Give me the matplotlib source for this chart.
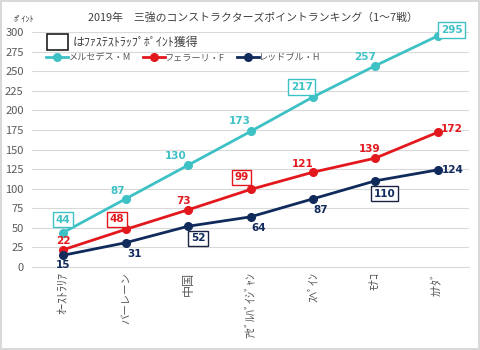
import matplotlib
matplotlib.use("Agg")
import matplotlib.pyplot as plt
from matplotlib.patches import Rectangle

plt.rcParams['font.family'] = ['Noto Sans CJK JP', 'DejaVu Sans']

races = ["ｵｰｽﾄﾗﾘｱ", "バーレーン", "中国", "ｱｾﾞﾙﾊﾞｲｼﾞｬﾝ", "ｽﾍﾟｲﾝ", "ﾓﾅｺ", "ｶﾅﾀﾞ"]
mercedes = [44, 87, 130, 173, 217, 257, 295]
ferrari = [22, 48, 73, 99, 121, 139, 172]
redbull = [15, 31, 52, 64, 87, 110, 124]
names = ["メルセデス・M", "フェラーリ・F", "レッドブル・H"]
# which labels are boxed (fastest lap point)
boxed_m = [True, False, False, False, True, False, True]
boxed_f = [False, True, False, True, False, False, False]
boxed_r = [False, False, True, False, False, True, False]

c_m = "#3EC1C5"
c_f = "#E2181D"
c_r = "#102A5C"

fig = plt.figure(figsize=(4.8, 3.5), dpi=100)
fig.patch.set_edgecolor("#D9D9D9")
fig.patch.set_linewidth(1.5)
ax = fig.add_axes([32/480, 1-267/350, 437/480, 235/350])

x = list(range(len(races)))
series = [(mercedes, c_m, boxed_m), (ferrari, c_f, boxed_f), (redbull, c_r, boxed_r)]
for (vals, col, _), nm in zip(series, names):
    ax.plot(x, vals, color=col, lw=2, marker='o', markersize=5.5, label=nm, zorder=3)

off_m = [(0, 13), (-8, 8), (-12, 9), (-11, 10), (-11, 10), (-10, 9), (14, 6)]
off_f = [(0, 9), (-9, 10), (-5, 9), (-9, 12), (-10, 8), (-6, 9), (14, 3)]
off_r = [(0, -10), (9, -11), (10, -12), (8, -11), (8, -11), (9, -13), (15, 0)]

for (vals, col, boxed), offs in zip(series, [off_m, off_f, off_r]):
    for i, v in enumerate(vals):
        bb = None
        if boxed[i]:
            bb = dict(boxstyle="square,pad=0.25", fc="white", ec=col if col != c_r else "#1A2440", lw=1)
        ax.annotate(str(v), (i, v), xytext=offs[i], textcoords='offset pixels',
                    ha='center', va='center', fontsize=7.5, fontweight='bold',
                    color=col, bbox=bb, zorder=4, family=['DejaVu Sans'])

ax.set_xlim(-0.5, 6.5)
ax.set_ylim(0, 300)
ax.set_yticks(range(0, 301, 25))
ax.grid(axis='y', color='#D9D9D9', lw=0.8)
ax.set_axisbelow(True)
for s in ['top', 'right', 'left']:
    ax.spines[s].set_visible(False)
ax.spines['bottom'].set_color('#D9D9D9')
ax.tick_params(axis='both', length=0, colors='#595959', labelsize=8)
ax.tick_params(axis='y', pad=6)
ax.set_xticks(x)
ax.set_xticklabels(races, rotation=90, fontsize=8.7, va='top', ha='center')
for t in ax.get_xticklabels():
    if t.get_text() in ("バーレーン",):
        t.set_fontsize(7.5)

fig.text(253/480, 1-18/350, "2019年　三強のコンストラクターズポイントランキング（1～7戦）",
         ha='center', va='center', fontsize=7.8, color='#404040')
fig.text(24/480, 1-19/350, "ﾎﾟｲﾝﾄ", ha='center', va='center', fontsize=6, color='#404040')

fig.patches.append(Rectangle((47/480, 1-50/350), 21/480, 16/350, transform=fig.transFigure,
                             fc='white', ec='#202020', lw=1.2))
fig.text(73/480, 1-42/350, "はﾌｧｽﾃｽﾄﾗｯﾌﾟﾎﾟｲﾝﾄ獲得", ha='left', va='center',
         fontsize=8.6, color='#404040')

leg = ax.legend(loc='center left', bbox_to_anchor=(46/480, 1-58/350), bbox_transform=fig.transFigure,
                ncol=3, frameon=False, fontsize=6.6, handlelength=2.4, columnspacing=1.3,
                handletextpad=0.05, borderaxespad=0, borderpad=0)
for t in leg.get_texts():
    t.set_color('#595959')

fig.savefig("out.png", dpi=100)
